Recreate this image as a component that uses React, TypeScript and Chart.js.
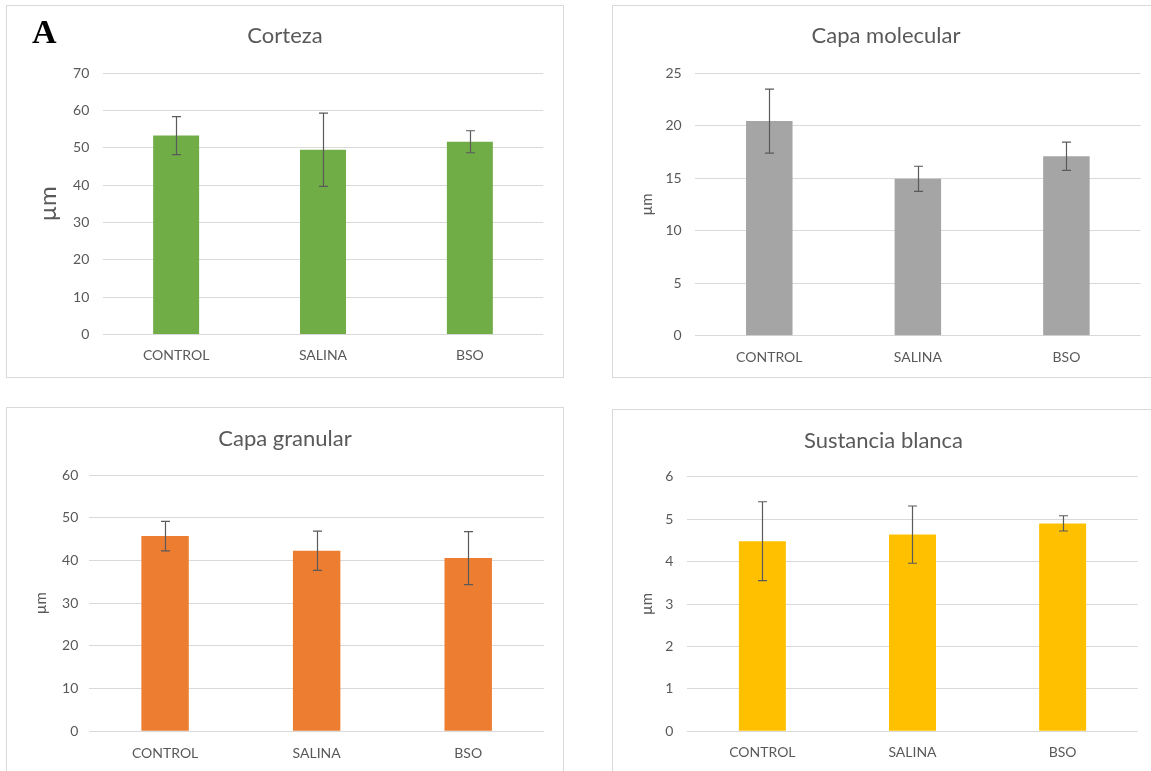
import React, { useEffect, useRef } from "react";
import { Chart, registerables } from "chart.js";

Chart.register(...registerables);

// Groups shown on every panel
const categories = ["CONTROL", "SALINA", "BSO"];

// Corteza (µm): means and error half-widths
const cortezaMeans = [53.3, 49.5, 51.65];
const cortezaErrors = [5.1, 9.8, 2.95];

// Capa molecular (µm)
const molecularMeans = [20.45, 14.95, 17.1];
const molecularErrors = [3.05, 1.2, 1.35];

// Capa granular (µm)
const granularMeans = [45.75, 42.3, 40.6];
const granularErrors = [3.45, 4.6, 6.2];

// Sustancia blanca (µm)
const blancaMeans = [4.48, 4.635, 4.9];
const blancaErrors = [0.93, 0.675, 0.18];

// Axis ranges: min, max, step
const cortezaAxis = [0, 70, 10];
const molecularAxis = [0, 25, 5];
const granularAxis = [0, 60, 10];
const blancaAxis = [0, 6, 1];

const FONT = "Lato, 'Open Sans', 'Liberation Sans', sans-serif";
const TEXT = "#595959";
const GRID = "#d9d9d9";

const errorBarPlugin = {
  id: "errorBars",
  afterDatasetsDraw(chart: any, _args: any, opts: any) {
    const { ctx } = chart;
    const meta = chart.getDatasetMeta(0);
    const yScale = chart.scales.y;
    const vals = chart.data.datasets[0].data as number[];
    const errs = opts.errors as number[];
    ctx.save();
    ctx.strokeStyle = opts.color;
    ctx.lineWidth = opts.width;
    meta.data.forEach((bar: any, i: number) => {
      const x = Math.round(bar.x) + 0.5;
      const top = yScale.getPixelForValue(vals[i] + errs[i]);
      const bot = yScale.getPixelForValue(vals[i] - errs[i]);
      const c = opts.cap;
      ctx.beginPath();
      ctx.moveTo(x, top);
      ctx.lineTo(x, bot);
      ctx.moveTo(x - c, top);
      ctx.lineTo(x + c, top);
      ctx.moveTo(x - c, bot);
      ctx.lineTo(x + c, bot);
      ctx.stroke();
    });
    ctx.restore();
  },
};

type PanelProps = {
  left: number;
  top: number;
  width: number;
  height: number;
  title: string;
  means: number[];
  errors: number[];
  axis: number[];
  color: string;
  yAxisWidth: number;
  xAxisHeight: number;
  padRight: number;
  titlePadTop: number;
  titlePadBottom: number;
  unitSize: number;
  unitPad: number;
  xTickPad: number;
  yTickPad: number;
};

function Panel(p: PanelProps) {
  const ref = useRef<HTMLCanvasElement | null>(null);

  useEffect(() => {
    if (!ref.current) return;
    // symmetric side padding keeps the title centred on the whole panel
    const side = p.padRight;
    const chart = new Chart(ref.current, {
      type: "bar",
      data: {
        labels: categories,
        datasets: [
          {
            data: p.means,
            backgroundColor: p.color,
            borderWidth: 0,
            categoryPercentage: 1,
            barPercentage: 0.313,
          },
        ],
      },
      plugins: [errorBarPlugin],
      options: {
        animation: false,
        responsive: false,
        devicePixelRatio: 1,
        layout: { padding: { left: side, top: 0, bottom: 0, right: side } },
        plugins: {
          legend: { display: false },
          tooltip: { enabled: false },
          title: {
            display: true,
            text: p.title,
            color: TEXT,
            font: { family: FONT, size: 22, weight: "normal", lineHeight: 1.2 },
            padding: { top: p.titlePadTop, bottom: p.titlePadBottom },
          },
          errorBars: { errors: p.errors, color: "#5a5a5a", width: 1.2, cap: 4.5 },
        } as any,
        scales: {
          x: {
            grid: { display: false, drawTicks: false },
            border: { display: false },
            ticks: {
              color: TEXT,
              font: { family: FONT, size: 14, lineHeight: 1.2 },
              padding: p.xTickPad,
            },
            afterFit: (s: any) => {
              s.height = p.xAxisHeight;
            },
          },
          y: {
            min: p.axis[0],
            max: p.axis[1],
            ticks: {
              stepSize: p.axis[2],
              color: TEXT,
              font: { family: FONT, size: 14, lineHeight: 1.2 },
              padding: p.yTickPad,
            },
            grid: { color: GRID, lineWidth: 1, drawTicks: false },
            border: { display: false },
            title: {
              display: true,
              text: "µm",
              color: TEXT,
              font: { family: FONT, size: p.unitSize, lineHeight: 1.2 },
              padding: { top: p.unitPad - side, bottom: 0 },
            },
            afterFit: (s: any) => {
              s.width = p.yAxisWidth - side;
            },
          },
        },
      },
    });
    return () => chart.destroy();
  }, []);

  return (
    <div
      style={{
        position: "absolute",
        left: p.left,
        top: p.top,
        width: p.width,
        height: p.height,
        border: "1px solid #d9d9d9",
        background: "#fff",
      }}
    >
      <canvas
        ref={ref}
        width={p.width}
        height={p.height}
        style={{ display: "block", width: p.width, height: p.height }}
      />
    </div>
  );
}

export default function App() {
  return (
    <div
      style={{
        position: "fixed",
        left: 0,
        top: 0,
        width: 1151,
        height: 771,
        overflow: "hidden",
        background: "#ffffff",
      }}
    >
      <Panel
        left={6}
        top={5}
        width={556}
        height={371}
        title="Corteza"
        means={cortezaMeans}
        errors={cortezaErrors}
        axis={cortezaAxis}
        color="#70AD47"
        yAxisWidth={95.7}
        xAxisHeight={42.6}
        padRight={19.7}
        titlePadTop={17.1}
        titlePadBottom={23.8}
        unitSize={24}
        unitPad={27}
        xTickPad={12.2}
        yTickPad={13.4}
      />
      <Panel
        left={612}
        top={5}
        width={546}
        height={371}
        title="Capa molecular"
        means={molecularMeans}
        errors={molecularErrors}
        axis={molecularAxis}
        color="#A5A5A5"
        yAxisWidth={82}
        xAxisHeight={41.2}
        padRight={18.3}
        titlePadTop={16.8}
        titlePadBottom={24.1}
        unitSize={15}
        unitPad={24.9}
        xTickPad={13}
        yTickPad={13.3}
      />
      <Panel
        left={6}
        top={407}
        width={556}
        height={400}
        title="Capa granular"
        means={granularMeans}
        errors={granularErrors}
        axis={granularAxis}
        color="#ED7D31"
        yAxisWidth={82.3}
        xAxisHeight={76.7}
        padRight={19}
        titlePadTop={18}
        titlePadBottom={22.9}
        unitSize={15}
        unitPad={24.9}
        xTickPad={13.8}
        yTickPad={11}
      />
      <Panel
        left={612}
        top={409}
        width={541}
        height={400}
        title="Sustancia blanca"
        means={blancaMeans}
        errors={blancaErrors}
        axis={blancaAxis}
        color="#FFC000"
        yAxisWidth={74.3}
        xAxisHeight={78.7}
        padRight={16.3}
        titlePadTop={17.6}
        titlePadBottom={22.7}
        unitSize={15}
        unitPad={24.9}
        xTickPad={12.8}
        yTickPad={14}
      />
      <div
        style={{
          position: "absolute",
          left: 32,
          top: 14.5,
          fontFamily: "'Liberation Serif', 'Times New Roman', serif",
          fontWeight: "bold",
          fontSize: 34,
          lineHeight: "34px",
          color: "#000",
        }}
      >
        A
      </div>
    </div>
  );
}
